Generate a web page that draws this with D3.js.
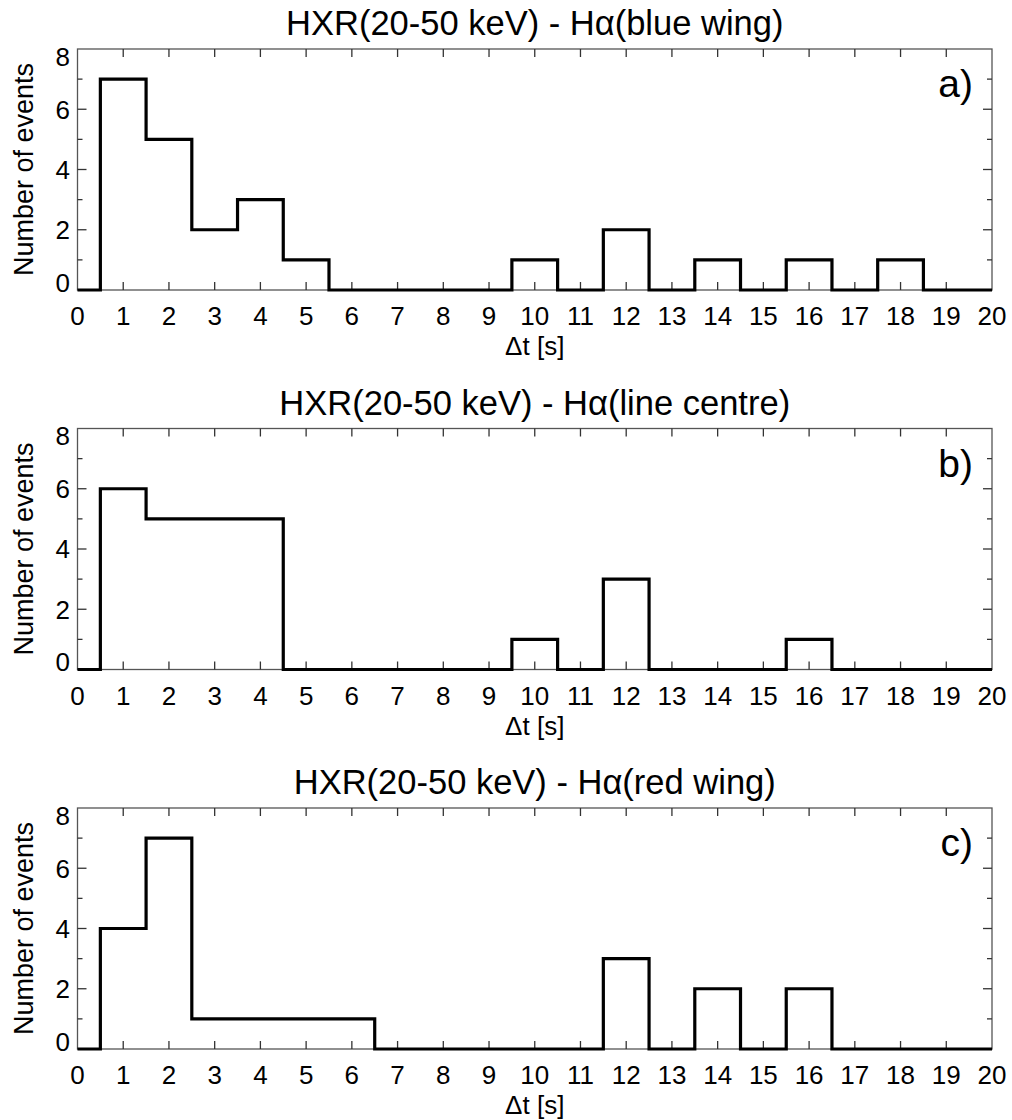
<!DOCTYPE html>
<html>
<head>
<meta charset="utf-8">
<script src="https://cdn.jsdelivr.net/npm/d3@7"></script>
<style>
  body { margin: 0; background: #fff; }
  svg text { font-family: "Liberation Sans", Arial, Helvetica, sans-serif; fill: #000; }
</style>
</head>
<body>
<script>
// bin centres (dt in seconds) shared by all three histograms
const binCentres = d3.range(0, 21);

// counts per bin
const blueWing   = [0, 7, 5, 2, 3, 1, 0, 0, 0, 0, 1, 0, 2, 0, 1, 0, 1, 0, 1, 0, 0];
const lineCentre = [0, 6, 5, 5, 5, 0, 0, 0, 0, 0, 1, 0, 3, 0, 0, 0, 1, 0, 0, 0, 0];
const redWing    = [0, 4, 7, 1, 1, 1, 1, 0, 0, 0, 0, 0, 3, 0, 2, 0, 2, 0, 0, 0, 0];

const titles = [
  "HXR(20-50 keV) - H\u03b1(blue wing)",
  "HXR(20-50 keV) - H\u03b1(line centre)",
  "HXR(20-50 keV) - H\u03b1(red wing)"
];
const panelTags = ["a)", "b)", "c)"];
const yTicks = [0, 2, 4, 6, 8];

const series = [blueWing, lineCentre, redWing];

var width = 1012, height = 1120;
var left = 77.5, right = 992;
var panelTop = [49, 428.5, 808];
var plotH = 241;

var svg = d3.select("body").append("svg")
  .attr("width", width)
  .attr("height", height);

var x = d3.scaleLinear().domain([0, 20]).range([left, right]);

series.forEach(function(counts, k) {
  var top = panelTop[k];
  var y = d3.scaleLinear().domain([0, 8]).range([top + plotH, top]);

  var g = svg.append("g");

  // frame
  g.append("rect")
    .attr("x", left).attr("y", top)
    .attr("width", right - left).attr("height", plotH)
    .attr("fill", "none")
    .attr("stroke", "#555")
    .attr("stroke-width", 1.3);

  // x ticks bottom + top, every 1 s
  d3.range(1, 20).forEach(function(v) {
    g.append("line")
      .attr("x1", x(v)).attr("x2", x(v))
      .attr("y1", top + plotH).attr("y2", top + plotH - 8)
      .attr("stroke", "#333").attr("stroke-width", 1.3);
    g.append("line")
      .attr("x1", x(v)).attr("x2", x(v))
      .attr("y1", top).attr("y2", top + 8)
      .attr("stroke", "#333").attr("stroke-width", 1.3);
  });

  // y ticks left + right, major every 2, minor every 1
  d3.range(1, 8).forEach(function(v) {
    var len = v % 2 == 0 ? 9 : 5;
    g.append("line")
      .attr("x1", left).attr("x2", left + len)
      .attr("y1", y(v)).attr("y2", y(v))
      .attr("stroke", "#333").attr("stroke-width", 1.3);
    g.append("line")
      .attr("x1", right).attr("x2", right - len)
      .attr("y1", y(v)).attr("y2", y(v))
      .attr("stroke", "#333").attr("stroke-width", 1.3);
  });

  // x tick labels
  g.selectAll(".xl")
    .data(binCentres)
    .enter().append("text")
      .attr("x", d => x(d))
      .attr("y", top + plotH + 35)
      .attr("text-anchor", "middle")
      .attr("font-size", "26px")
      .text(d => d);

  // y tick labels (end labels pulled inside the frame like IDL does)
  g.selectAll(".yl")
    .data(yTicks)
    .enter().append("text")
      .attr("x", 70)
      .attr("y", function(d) {
        var off = 0;
        if (d == 0) off = -7.5;
        if (d == 8) off = 7.5;
        return y(d) + off;
      })
      .attr("dy", "0.36em")
      .attr("text-anchor", "end")
      .attr("font-size", "26px")
      .text(d => d);

  // axis titles
  g.append("text")
    .attr("transform", "translate(33," + (top + plotH / 2) + ") rotate(-90)")
    .attr("text-anchor", "middle")
    .attr("font-size", "27px")
    .text("Number of events");

  g.append("text")
    .attr("x", (left + right) / 2)
    .attr("y", top + plotH + 65)
    .attr("text-anchor", "middle")
    .attr("font-size", "26px")
    .text("\u0394t [s]");

  g.append("text")
    .attr("x", (left + right) / 2)
    .attr("y", top - 14)
    .attr("text-anchor", "middle")
    .attr("font-size", "34.5px")
    .text(titles[k]);

  g.append("text")
    .attr("x", 973)
    .attr("y", top + 48)
    .attr("text-anchor", "end")
    .attr("font-size", "39px")
    .text(panelTags[k]);

  // histogram, step at bin edges
  var line = d3.line()
    .x((d, i) => x(binCentres[i]))
    .y(d => y(d))
    .curve(d3.curveStep);

  g.append("path")
    .datum(counts)
    .attr("d", line)
    .attr("fill", "none")
    .attr("stroke", "#000")
    .attr("stroke-width", 3.2)
    .attr("stroke-linejoin", "miter");
});
</script>
</body>
</html>
